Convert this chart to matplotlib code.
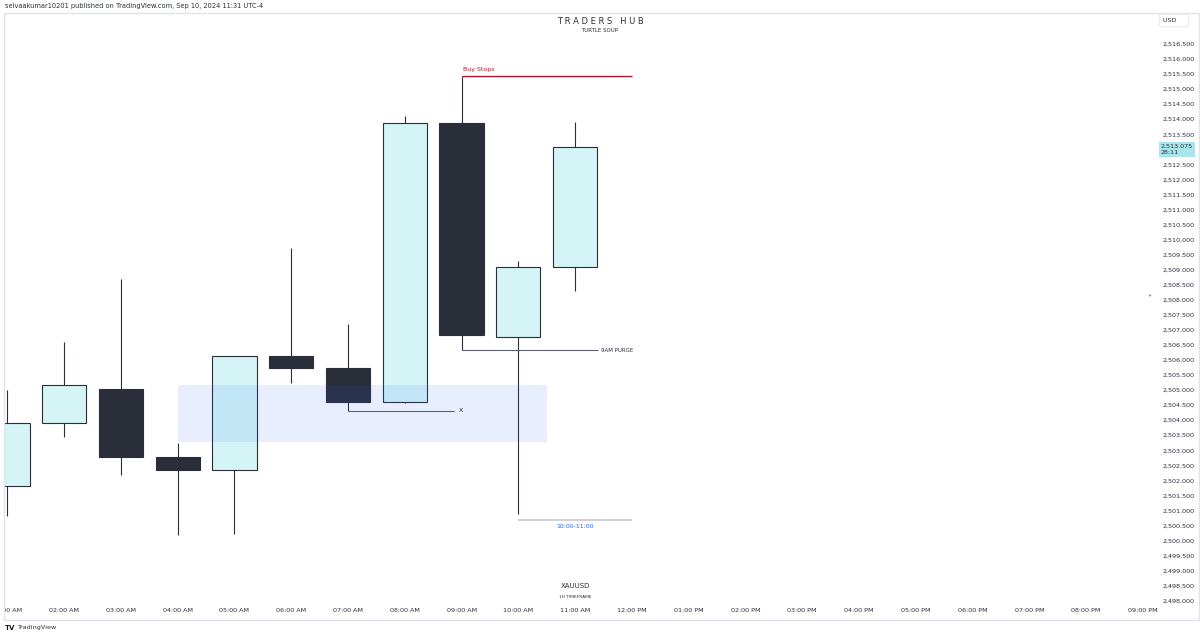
import matplotlib
matplotlib.use("Agg")
import matplotlib.pyplot as plt
import matplotlib.patches as patches
import matplotlib.transforms as mtransforms
from matplotlib.ticker import FixedLocator, FuncFormatter

# hourly XAUUSD candles (hour of day, 1 = 01:00 AM)
hours = [1, 2, 3, 4, 5, 6, 7, 8, 9, 10, 11]
opens = [2501.82, 2503.91, 2505.04, 2502.78, 2502.35, 2506.13, 2505.74, 2504.61, 2513.88, 2506.77, 2509.09]
highs = [2505.00, 2506.60, 2508.69, 2503.24, 2506.13, 2509.72, 2507.20, 2514.11, 2515.44, 2509.29, 2513.91]
lows = [2500.82, 2503.44, 2502.18, 2500.19, 2500.22, 2505.24, 2504.31, 2504.58, 2506.33, 2500.89, 2508.29]
closes = [2503.91, 2505.17, 2502.78, 2502.35, 2506.13, 2505.74, 2504.61, 2513.88, 2506.83, 2509.09, 2513.075]

time_ticks = list(range(1, 22))
time_labels = [f"{(h - 1) % 12 + 1:02d}:00 {'AM' if h < 12 else 'PM'}" for h in time_ticks]
# 2,513.000 sits under the last-price tag, 2,517.000 under the USD box
price_ticks = [2498.0 + 0.5 * i for i in range(38) if 2498.0 + 0.5 * i != 2513.0]

# drawings on the chart
buy_stops = 2515.44
purge_level = 2506.33
x_level = 2504.31
range_low = 2500.69
zone_low, zone_high = 2503.28, 2505.17

W, H = 1200, 636
fig = plt.figure(figsize=(W / 100, H / 100), dpi=100)
fig.patch.set_facecolor("white")

def fx(px):
    return px / W

def fy(py):
    return 1 - py / H

ax = fig.add_axes([fx(4), fy(620), fx(1157 - 4), (620 - 13) / H])
ax.set_xlim(0.94, 21.25)
ax.set_ylim(2497.36, 2517.53)
for s in ax.spines.values():
    s.set_visible(False)

bull_fill = "#d4f4f6"
dark = "#2a2e39"

# wicks then bodies
ax.vlines(hours, lows, highs, color=dark, lw=0.8, zorder=1)
for h, o, c in zip(hours, opens, closes):
    up = c >= o
    ax.bar(h, abs(c - o), bottom=min(o, c), width=0.78,
           color=bull_fill if up else dark, edgecolor=dark, lw=0.8, zorder=2)

# zone box
ax.add_patch(patches.Rectangle((4, zone_low), 10.51 - 4, zone_high - zone_low,
                               facecolor=(41 / 255, 98 / 255, 1, 0.1), edgecolor="none", zorder=3))

# buy stops
ax.hlines(buy_stops, 9, 12, color="#b2182b", lw=1, zorder=4)
ax.text(9.03, buy_stops + 0.12, "Buy Stops", color="#b2182b", fontsize=4.5, ha="left", va="bottom")

# 9AM purge
ax.hlines(purge_level, 9, 11.41, color="#5d606b", lw=0.8, zorder=4)
ax.text(11.46, purge_level, "9AM PURGE", color="#2a2e39", fontsize=4, ha="left", va="center")

# X
ax.hlines(x_level, 7, 8.87, color="#5d606b", lw=0.8, zorder=4)
ax.text(8.96, x_level, "X", color="#2a2e39", fontsize=4.5, ha="left", va="center")

# 10:00-11:00 range
ax.hlines(range_low, 10, 12, color="#c9cbd1", lw=1.2, zorder=4)
ax.text(11, range_low - 0.15, "10:00-11:00", color="#2962ff", fontsize=4.5, ha="center", va="top")

ax.text(11, 2498.48, "XAUUSD", color="#2a2e39", fontsize=5, ha="center", va="center")
ax.text(11, 2498.12, "1H TIMEFRAME", color="#2a2e39", fontsize=3.2, ha="center", va="center")

# axes ticks
ax.xaxis.set_major_locator(FixedLocator(time_ticks))
ax.set_xticklabels(time_labels)
ax.tick_params(axis="x", length=0, pad=-8.5, labelsize=4.6, labelcolor="#2a2e39")
for lbl in ax.get_xticklabels():
    lbl.set_clip_on(True)
    lbl.set_clip_box(ax.bbox)

ax.yaxis.tick_right()
ax.yaxis.set_major_locator(FixedLocator(price_ticks))
ax.yaxis.set_major_formatter(FuncFormatter(lambda v, p: f"{v:,.3f}"))
ax.tick_params(axis="y", length=0, pad=4, labelsize=4.6, labelcolor="#2a2e39")

# last price tag
trans = mtransforms.blended_transform_factory(ax.transAxes, ax.transData)
ax.text(1.0035, closes[-1] - 0.08, f"{closes[-1]:,.3f}\n28:11", transform=trans, fontsize=4.6,
        color="#2a2e39", ha="left", va="center", linespacing=1.3, clip_on=False,
        bbox=dict(boxstyle="square,pad=0.35", facecolor="#a9e5ec", edgecolor="none"), zorder=10)

# frame, header, title, footer
fig.add_artist(patches.Rectangle((fx(4), fy(620)), fx(1199 - 4), (620 - 13) / H,
                                 transform=fig.transFigure, fill=False, edgecolor="#e0e3eb", lw=1))
fig.text(fx(1163), fy(20.5), "USD    ", fontsize=4.6, color="#2a2e39", ha="left", va="center",
         bbox=dict(boxstyle="round,pad=0.6,rounding_size=0.3", facecolor="white", edgecolor="#e0e3eb", lw=0.6))
fig.text(fx(1150), fy(295), "▸", fontsize=4, color="#9598a1", ha="center", va="center")

fig.text(fx(5), fy(6), "selvaakumar10201 published on TradingView.com, Sep 10, 2024 11:31 UTC-4",
         fontsize=4.8, color="#2a2e39", ha="left", va="center")
fig.text(fx(600), fy(22), "T R A D E R S   H U B", fontsize=6, color="#2a2e39", ha="center", va="center")
fig.text(fx(600), fy(30.5), "TURTLE SOUP", fontsize=4, color="#2a2e39", ha="center", va="center")
fig.text(fx(5), fy(628), "TV", fontsize=5, fontweight="bold", color="#131722", ha="left", va="center")
fig.text(fx(17), fy(628), "TradingView", fontsize=4.6, color="#2a2e39", ha="left", va="center")

fig.savefig("out.png", dpi=100, facecolor="white")
